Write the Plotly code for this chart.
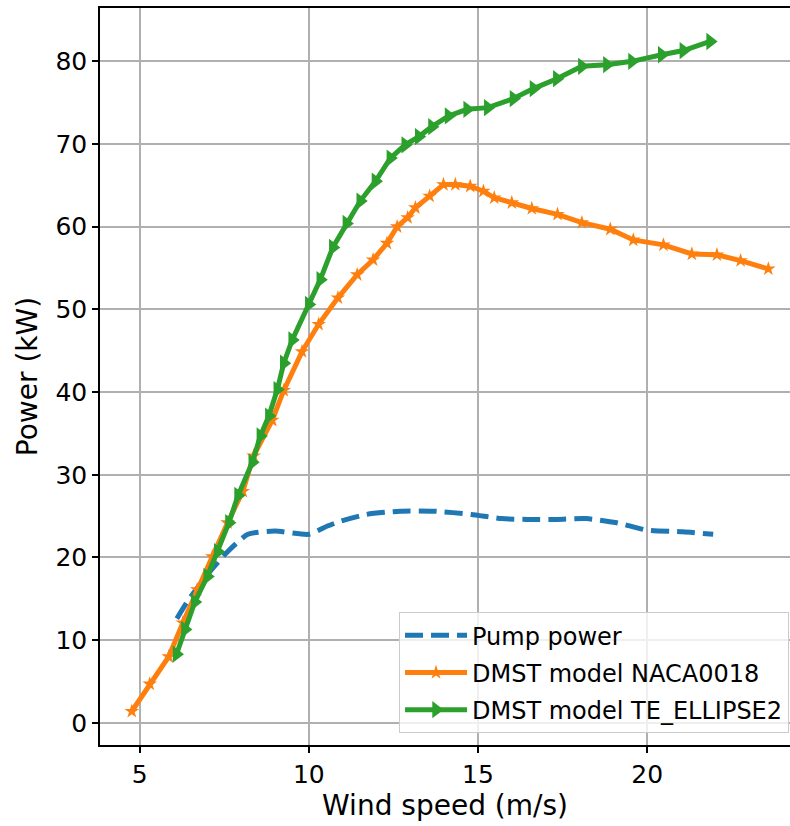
import plotly.graph_objects as go

# Pump power (dashed)
pump_x = [6.1, 6.45, 7.0, 7.6, 8.2, 9.0, 10.0, 10.55, 10.95, 11.7, 12.7, 13.7, 14.8, 15.7, 16.45, 17.35, 18.2, 19.1, 20.0, 21.05, 21.95]
pump_y = [12.6, 14.9, 17.9, 20.7, 22.8, 23.2, 22.8, 23.8, 24.4, 25.2, 25.6, 25.6, 25.2, 24.7, 24.6, 24.6, 24.7, 24.2, 23.3, 23.1, 22.8]

# DMST model NACA0018
naca_x = [4.77, 5.30, 5.86, 6.28, 6.70, 7.15, 7.60, 8.05, 8.37, 8.92, 9.26, 9.80, 10.29, 10.86,
          11.43, 11.90, 12.31, 12.61, 12.92, 13.15, 13.57, 13.98, 14.33, 14.77, 15.16, 15.48,
          16.00, 16.59, 17.35, 18.07, 18.91, 19.59, 20.48, 21.32, 22.06, 22.76, 23.58]
naca_y = [1.4, 4.7, 8.0, 12.1, 16.1, 20.1, 24.2, 28.0, 32.3, 36.6, 40.2, 44.9, 48.2, 51.4,
          54.2, 56.0, 58.0, 60.0, 61.1, 62.3, 63.7, 65.1, 65.1, 64.9, 64.3, 63.5,
          62.9, 62.2, 61.5, 60.5, 59.7, 58.4, 57.8, 56.7, 56.6, 55.9, 54.9]

# DMST model TE_ELLIPSE2
te_x = [6.09, 6.34, 6.63, 7.00, 7.31, 7.64, 7.91, 8.33, 8.57, 8.82, 9.07, 9.26, 9.51, 10.00,
        10.34, 10.71, 11.11, 11.52, 11.97, 12.41, 12.85, 13.25, 13.64, 14.13, 14.68, 15.29,
        16.05, 16.64, 17.33, 18.07, 18.81, 19.55, 20.43, 21.07, 21.86]
te_y = [8.3, 11.3, 14.6, 17.7, 20.7, 24.2, 27.5, 31.5, 34.7, 37.1, 40.3, 43.5, 46.3, 50.6,
        53.6, 57.5, 60.4, 63.1, 65.5, 68.3, 69.9, 70.9, 72.1, 73.4, 74.2, 74.4,
        75.5, 76.7, 77.9, 79.4, 79.6, 80.0, 80.8, 81.3, 82.4]

x_ticks = [5, 10, 15, 20]
y_ticks = [0, 10, 20, 30, 40, 50, 60, 70, 80]

FONT = "DejaVu Sans"

fig = go.Figure()
fig.add_trace(go.Scatter(
    x=pump_x, y=pump_y, mode="lines", name="Pump power", legendgroup="a",
    line=dict(color="#1f77b4", width=5, dash="18px,8px", shape="spline", smoothing=0.6),
))
fig.add_trace(go.Scatter(
    x=naca_x, y=naca_y, mode="lines+markers", name="DMST model NACA0018", legendgroup="b",
    line=dict(color="#ff7f0e", width=5),
    marker=dict(symbol="star", size=11, color="#ff7f0e"),
))
fig.add_trace(go.Scatter(
    x=te_x, y=te_y, mode="lines+markers", name="DMST model TE_ELLIPSE2", legendgroup="c",
    line=dict(color="#2ca02c", width=5),
    marker=dict(symbol="triangle-right", size=15, color="#2ca02c"),
))

fig.update_layout(
    width=790, height=826,
    margin=dict(l=100, r=0, t=8, b=81),
    paper_bgcolor="white", plot_bgcolor="white",
    font=dict(family=FONT, size=24, color="black"),
    showlegend=True,
    legend=dict(
        x=0.9986, y=0.016, xanchor="right", yanchor="bottom",
        bgcolor="rgba(255,255,255,0.8)", bordercolor="#cccccc", borderwidth=1,
        font=dict(family=FONT, size=24, color="black"),
        tracegroupgap=3, itemwidth=62,
    ),
)
fig.update_xaxes(
    range=[3.83, 24.22], tickvals=x_ticks, ticktext=[str(v) for v in x_ticks],
    showgrid=True, gridcolor="#b0b0b0", gridwidth=1.5,
    showline=True, linecolor="black", linewidth=1.5, mirror=True,
    ticks="outside", ticklen=6, tickwidth=1.5, tickcolor="black",
    tickfont=dict(family=FONT, size=25), zeroline=False,
    title=dict(text="Wind speed (m/s)", font=dict(family=FONT, size=28), standoff=8),
)
fig.update_yaxes(
    range=[-2.68, 86.45], tickvals=y_ticks, ticktext=[str(v) for v in y_ticks],
    showgrid=True, gridcolor="#b0b0b0", gridwidth=1.5,
    showline=True, linecolor="black", linewidth=1.5, mirror=False,
    ticks="outside", ticklen=6, tickwidth=1.5, tickcolor="black",
    tickfont=dict(family=FONT, size=25), zeroline=False,
    title=dict(text="Power (kW)", font=dict(family=FONT, size=28), standoff=10),
)

fig.write_html("out.html")
